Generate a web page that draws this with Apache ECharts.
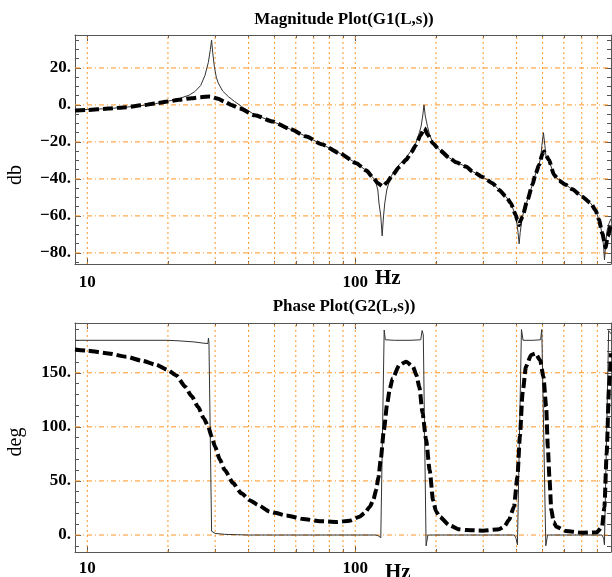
<!DOCTYPE html>
<html><head><meta charset="utf-8">
<script src="https://cdn.jsdelivr.net/npm/echarts@6/dist/echarts.min.js"></script>
<style>html,body{margin:0;padding:0;background:#fff}#c{width:612px;height:577px}</style>
</head><body><div id="c"></div>
<script>
const magThinFreq = [9,10,12,14,16,18,20,22,24,25.2,26.5,27.5,28.3,28.8,29.1,29.4,29.8,30.3,30.8,32,33.6,35.5,37.7,42.2,49.3,57,65.7,75,87.4,100.9,110,115,118.6,121.4,122.6,124.5,126,127.5,128.9,131.1,135,140,146,154.8,162,168.5,173.4,176,178.5,180.5,182.5,186,189,194.5,205.9,224.4,237.6,258.8,274,300,325.2,344.4,364.8,380.7,397,401,405,408.8,412.5,417,421,439,458,471.6,485.3,492,497,503.6,510,515,527.8,551.7,575.9,610,645.5,703,755.5,788.6,811,835,845,851,858,870,885,900];
const magThinDb = [-2.7,-2.5,-2.0,-1.2,-0.3,0.7,2.0,3.4,5.3,7.2,10.5,16,23,30,35,28,20.7,15,11.9,7.5,4.5,1.8,-0.9,-5.4,-9,-13,-17.1,-21.3,-26.1,-31.5,-35.5,-38.5,-40.5,-46,-53,-60,-70.8,-60,-53,-46,-39.6,-35.5,-32.2,-28.5,-24.5,-20.5,-15,-11.7,-6,0,-6,-11.7,-15.5,-20.5,-24.2,-28.6,-31,-33.3,-36,-39.1,-42.3,-46,-49.5,-53.1,-60,-64,-69,-75.1,-69,-64,-60,-51.4,-43.2,-36.9,-32,-28.5,-22,-15,-22,-28,-30,-37.8,-40.9,-43.2,-45.6,-49.6,-53.1,-57,-62,-70,-77,-83.8,-77,-68,-64,-61.5];
const magDashFreq = [9,10,12,14,16,18,20,22,24.5,26.5,28.7,30.8,32.5,34.5,37.1,42.2,49.3,57,65.7,75,87.4,100.9,110,116.3,121.4,126.7,131.1,138,146,154.8,162,168.5,175,181,187,194.5,205.9,224.4,237.6,258.8,274,300,325.2,344.4,364.8,380.7,397,403,408.8,414,420.5,439,458,471.6,485.3,499,506.6,514,527.8,551.7,575.9,610,645.5,703,755.5,788.6,811,835,859,875,900];
const magDashDb = [-3.0,-2.7,-2.0,-1.2,-0.2,0.8,1.8,2.8,3.6,4.2,4.6,3.3,1.8,0.0,-2.0,-5.6,-9.0,-13.0,-17.1,-21.3,-26.1,-31.5,-35.5,-39.1,-42.3,-44.1,-42,-37.8,-33.5,-29.7,-25.5,-21.6,-16.5,-12.6,-16.5,-20.7,-24.2,-28.6,-31,-33.3,-36,-39.1,-42.3,-46,-49.5,-53.1,-59.5,-62.5,-64.9,-62.5,-60.4,-51.4,-43.2,-36.9,-32.4,-26.5,-25.2,-27.2,-29.7,-37.8,-40.9,-43.2,-45.6,-49.6,-53.1,-57,-62,-69.4,-77,-71,-64];
const phaseThinFreq = [9,20,22,25,27.5,28.2,28.32,28.45,29.1,29.3,30,32.6,40,50,119,121.5,124.5,125.6,128.2,129.5,140,160,175.5,177.6,179.4,183.8,186.6,392,398,402.8,417,422.8,460,491.6,496.5,514,521.7,833,845,850.6,882,900];
const phaseThinDeg = [180,180,179.5,178.5,177.2,177,182,178,3.5,3,1.5,0.6,0,0,0,-0.5,-2.5,-3,189.5,180.5,180,180,180.5,189,185,-10,0,0,-3,-9,190,180,180,180.5,190,-10,0,0,-3,-9,189,186];
const phaseDashFreq = [9,10,12,14,16,18,20,21.5,23.2,24.5,25.9,27.2,28.3,29.1,30,31.2,32.6,35,37.6,40.5,43.4,48,50,55.3,63.9,73.8,85.1,95.2,103.8,108.5,113.4,117,119.6,122,124.4,127.9,131.6,134.5,137.9,146,154.8,164.3,169,173.4,178.3,183.8,189.5,195.1,200,206.6,224,244,258.9,300,344,360,374.6,391,402.8,411.4,421,433.4,452.9,469.8,489.5,503.7,515.6,523,530.9,538.8,550,562.6,610.6,703.6,796.5,833.3,850.6,867,885,899];
const phaseDashDeg = [171.6,170.5,167.9,164.8,161.1,157.5,152.5,147.5,137,128.5,118.6,108,100,91,81.6,70,60,48,38.5,32,27.7,21.6,20.5,18.0,14.8,12.8,12,13.2,16.9,20.5,26.2,33,41.6,53,69.3,97,121.7,135,144.8,157.1,160.2,155.6,148,137,112.5,87.8,60,32.3,22,16.9,9.2,5.3,4.6,4,5.3,8,13.9,26.2,53.9,90.9,131,155.6,166.4,167.9,161.7,146.3,118.6,81.6,50.8,23.1,12,7.7,3.7,2.1,2.5,7.7,26,75.5,137,168];

const xGridFreqs = [10,20,30,40,50,60,70,80,90,100,200,300,400,500,600,700,800];
const xMajorTicks = [10,100];
const xMinorTicks = [20,30,40,50,60,70,80,90,200,300,400,500,600,700,800];
const magTicks = [-80,-60,-40,-20,0,20];
const magMinor = [-85,-75,-70,-65,-55,-50,-45,-35,-30,-25,-15,-10,-5,5,10,15,25,30,35];
const phaseTicks = [0,50,100,150];
const phaseMinor = [-10,10,20,30,40,60,70,80,90,110,120,130,140,160,170,180,190];

const X_MIN = 9, X_MAX = 900, MAG_MIN = -86, MAG_MAX = 37.8, PH_MIN = -15.7, PH_MAX = 196;

const FONT = '"Liberation Serif","Times New Roman",serif';
const FRAME = '#555';
const ORANGE = '#ff9526';
const zip = (a, b) => a.map((v, i) => [v, b[i]]);
const fmtY = v => (v < 0 ? '\u2212' + (-v) : String(v)) + '.';
const NOSPLIT = {splitLine:{show:false}, minorTick:{show:false}, minorSplitLine:{show:false}, splitArea:{show:false}};

function xAxes(g, labelMargin) {
  const base = Object.assign({type:'log', logBase:10, min:X_MIN, max:X_MAX, gridIndex:g}, NOSPLIT);
  const line = {show:true, onZero:false, lineStyle:{color:FRAME, width:1}};
  return [
    Object.assign({}, base, {position:'bottom', axisLine:line,
      axisTick:{show:true, inside:true, length:6, customValues:xMajorTicks, lineStyle:{color:FRAME}},
      axisLabel:{show:true, customValues:xMajorTicks, margin:labelMargin, color:'#000',
        fontFamily:FONT, fontWeight:'bold', fontSize:17, formatter:v => String(Math.round(v))}}),
    Object.assign({}, base, {position:'bottom', axisLine:{show:false, onZero:false},
      axisTick:{show:true, inside:true, length:3, customValues:xMinorTicks, lineStyle:{color:FRAME}},
      axisLabel:{show:false}}),
    Object.assign({}, base, {position:'top', axisLine:line,
      axisTick:{show:true, inside:true, length:6, customValues:xMajorTicks, lineStyle:{color:FRAME}},
      axisLabel:{show:false}}),
    Object.assign({}, base, {position:'top', axisLine:{show:false, onZero:false},
      axisTick:{show:true, inside:true, length:3, customValues:xMinorTicks, lineStyle:{color:FRAME}},
      axisLabel:{show:false}})
  ];
}
function yAxes(g, min, max, major, minor) {
  const base = Object.assign({type:'value', min:min, max:max, gridIndex:g}, NOSPLIT);
  const line = {show:true, onZero:false, lineStyle:{color:FRAME, width:1}};
  return [
    Object.assign({}, base, {position:'left', axisLine:line,
      axisTick:{show:true, inside:true, length:6, customValues:major, lineStyle:{color:FRAME}},
      axisLabel:{show:true, customValues:major, margin:4, color:'#000', fontFamily:FONT,
        fontWeight:'bold', fontSize:17, formatter:fmtY}}),
    Object.assign({}, base, {position:'left', axisLine:{show:false, onZero:false},
      axisTick:{show:true, inside:true, length:4, customValues:minor, lineStyle:{color:FRAME}},
      axisLabel:{show:false}}),
    Object.assign({}, base, {position:'right', axisLine:line,
      axisTick:{show:true, inside:true, length:6, customValues:major, lineStyle:{color:FRAME}},
      axisLabel:{show:false}}),
    Object.assign({}, base, {position:'right', axisLine:{show:false, onZero:false},
      axisTick:{show:true, inside:true, length:4, customValues:minor, lineStyle:{color:FRAME}},
      axisLabel:{show:false}})
  ];
}
// grid lines drawn as broken line series through the axes' own scales
function vGridSeries(xi, yi, ymin, ymax) {
  const data = [];
  xGridFreqs.forEach(f => { data.push([f, ymin], [f, ymax], ['-', '-']); });
  return {type:'line', xAxisIndex:xi, yAxisIndex:yi, data:data, symbol:'none', silent:true,
    connectNulls:false, z:1, lineStyle:{color:ORANGE, width:1, type:[2,3]}};
}
function hGridSeries(xi, yi, vals) {
  const data = [];
  vals.forEach(v => { data.push([X_MIN, v], [X_MAX, v], ['-', '-']); });
  return {type:'line', xAxisIndex:xi, yAxisIndex:yi, data:data, symbol:'none', silent:true,
    connectNulls:false, z:1, lineStyle:{color:ORANGE, width:1, type:[5,3,1,3]}};
}
const thinStyle = {color:'#333', width:1};
const dashStyle = {color:'#000', width:4, type:[10,4], cap:'butt'};

const chart = echarts.init(document.getElementById('c'), null, {renderer:'canvas'});
chart.setOption({
  animation:false,
  backgroundColor:'#fff',
  grid:[
    {left:75, top:35, width:536, height:229},
    {left:75, top:323, width:536, height:229}
  ],
  xAxis: xAxes(0, 10).concat(xAxes(1, 8)),
  yAxis: yAxes(0, MAG_MIN, MAG_MAX, magTicks, magMinor).concat(yAxes(1, PH_MIN, PH_MAX, phaseTicks, phaseMinor)),
  series:[
    vGridSeries(0, 0, MAG_MIN, MAG_MAX),
    hGridSeries(0, 0, magTicks),
    vGridSeries(4, 4, PH_MIN, PH_MAX),
    hGridSeries(4, 4, phaseTicks),
    {type:'line', xAxisIndex:0, yAxisIndex:0, data:zip(magThinFreq, magThinDb), symbol:'none',
      lineStyle:thinStyle, z:3},
    {type:'line', xAxisIndex:0, yAxisIndex:0, data:zip(magDashFreq, magDashDb), symbol:'none',
      smooth:0.2, smoothMonotone:'x', lineStyle:dashStyle, z:4},
    {type:'line', xAxisIndex:4, yAxisIndex:4, data:zip(phaseThinFreq, phaseThinDeg), symbol:'none',
      lineStyle:thinStyle, z:3},
    {type:'line', xAxisIndex:4, yAxisIndex:4, data:zip(phaseDashFreq, phaseDashDeg), symbol:'none',
      smooth:0.2, smoothMonotone:'x', lineStyle:dashStyle, z:4}
  ],
  graphic:[
    {type:'text', x:344, y:19.5, style:{text:'Magnitude Plot(G1(L,s))', font:'bold 17px ' + FONT, fill:'#000', textAlign:'center', textVerticalAlign:'middle'}},
    {type:'text', x:344, y:306.5, style:{text:'Phase Plot(G2(L,s))', font:'bold 17px ' + FONT, fill:'#000', textAlign:'center', textVerticalAlign:'middle'}},
    {type:'text', x:16, y:175, rotation:Math.PI/2, style:{text:'db', font:'20px ' + FONT, fill:'#000', textAlign:'center', textVerticalAlign:'middle'}},
    {type:'text', x:16, y:442, rotation:Math.PI/2, style:{text:'deg', font:'20px ' + FONT, fill:'#000', textAlign:'center', textVerticalAlign:'middle'}},
    {type:'text', x:375, y:279, style:{text:'Hz', font:'bold 21px ' + FONT, fill:'#000', textAlign:'left', textVerticalAlign:'middle'}},
    {type:'text', x:385, y:573, style:{text:'Hz', font:'bold 21px ' + FONT, fill:'#000', textAlign:'left', textVerticalAlign:'middle'}}
  ]
});
</script>
</body></html>
